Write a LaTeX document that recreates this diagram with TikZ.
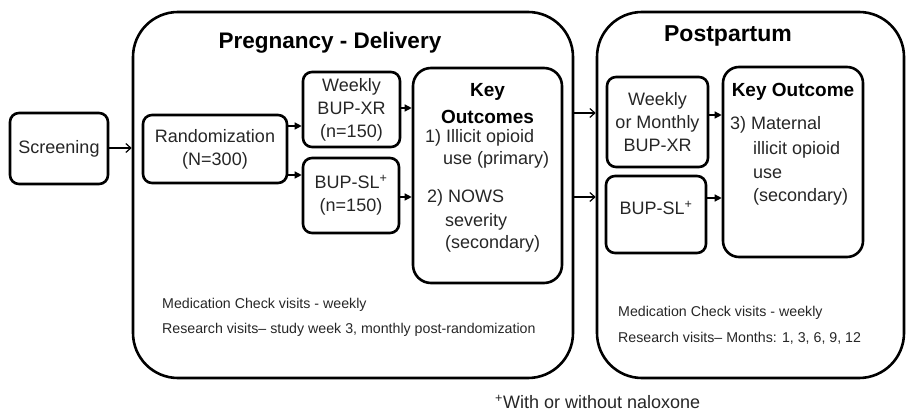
\documentclass[tikz,border=0pt]{standalone}
\usepackage{fontspec}
\setmainfont{Liberation Sans}
\usetikzlibrary{arrows.meta}
\begin{document}
\begin{tikzpicture}[x=1pt,y=-1pt,
  box/.style={draw, line width=2.6pt, rounded corners=9pt, inner sep=0pt, align=center,
    font=\fontsize{18}{23}\selectfont, text=black!85},
  bigbox/.style={draw, line width=2.6pt, rounded corners=45pt, inner sep=0pt},
  keybox/.style={draw, line width=2.6pt, rounded corners=18pt, inner sep=0pt},
  solidarrow/.style={line width=1.2pt, -{Triangle[length=7pt,width=7pt]}},
  openarrow/.style={line width=1.2pt, -{Straight Barb[length=5pt,width=9pt]}},
  txt/.style={inner sep=0pt, anchor=west, font=\fontsize{18}{23}\selectfont, text=black!85},
  head/.style={inner sep=0pt, font=\bfseries\fontsize{19}{23}\selectfont},
  title/.style={inner sep=0pt, font=\bfseries\fontsize{22.5}{26}\selectfont},
  note/.style={inner sep=0pt, anchor=west, font=\fontsize{14.2}{17}\selectfont, text=black!85}
]
\useasboundingbox (0,0) rectangle (907,411);

% big phase boxes
\node[bigbox, minimum width=440pt, minimum height=366pt] (preg) at (353,195) {};
\node[bigbox, minimum width=307pt, minimum height=366pt] (post) at (750.5,195) {};

\node[title] (pregt) at (330,43) {Pregnancy - Delivery};
\node[title, font=\bfseries\fontsize{23}{26}\selectfont] (postt) at (728,36) {Postpartum};

% screening and randomization
\node[box, minimum width=98pt, minimum height=71pt] (scr) at (59,148.5) {Screening};
\node[box, minimum width=144pt, minimum height=68pt] (rand) at (215,149) {Randomization\\(N=300)};

% pregnancy arms
\node[box, minimum width=97pt, minimum height=75pt] (wk) at (351.5,109.5) {Weekly\\BUP-XR\\(n=150)};
\node[box, minimum width=96pt, minimum height=75pt] (sl) at (351,195.5) {BUP-SL\textsuperscript{+}\\(n=150)};

% pregnancy key outcomes
\node[keybox, minimum width=149pt, minimum height=215pt] (key) at (487.5,175.5) {};
\node[head] (k1) at (487.5,92) {Key};
\node[head] (k2) at (487.5,117) {Outcomes};
\node[txt] (k3) at (425,138) {1) Illicit opioid};
\node[txt] (k4) at (443,160) {use (primary)};
\node[txt] (k5) at (427,198) {2) NOWS};
\node[txt] (k6) at (445,222) {severity};
\node[txt] (k7) at (445,244) {(secondary)};

% postpartum arms
\node[box, minimum width=101pt, minimum height=90pt] (pwk) at (657.5,122) {Weekly\\or Monthly\\BUP-XR};
\node[box, minimum width=100pt, minimum height=77pt] (psl) at (656,214.5) {};
\node[txt, anchor=center] (pslt) at (656,208) {BUP-SL\textsuperscript{+}};

% postpartum key outcome
\node[keybox, rounded corners=16pt, minimum width=140pt, minimum height=190pt] (pkey) at (793,162) {};
\node[head] (pk1) at (793,92) {Key Outcome};
\node[txt] (pk2) at (730,125) {3) Maternal};
\node[txt] (pk3) at (753,150) {illicit opioid};
\node[txt] (pk4) at (753,174) {use};
\node[txt] (pk5) at (753,197) {(secondary)};

% visit notes
\node[note] (n1) at (162,305) {Medication Check visits - weekly};
\node[note] (n2) at (162,330) {Research visits– study week 3, monthly post-randomization};
\node[note] (n3) at (618,313) {Medication Check visits - weekly};
\node[note] (n4) at (618,338) {Research visits– Months: 1, 3, 6, 9, 12};

% footnote
\node[txt] (foot) at (495,402) {\textsuperscript{+}With or without naloxone};

% connectors
\draw[openarrow] (scr.east |- 0,148) -- (preg.west |- 0,148);
\draw[solidarrow] (rand.east |- 0,126) -- (wk.west |- 0,126);
\draw[solidarrow] (rand.east |- 0,175) -- (sl.west |- 0,175);
\draw[solidarrow] (wk.east |- 0,108) -- (key.west |- 0,108);
\draw[solidarrow] (sl.east |- 0,197) -- (key.west |- 0,197);
\draw[openarrow] (preg.east |- 0,113) -- (post.west |- 0,113);
\draw[openarrow] (preg.east |- 0,197) -- (post.west |- 0,197);
\draw[solidarrow] (pwk.east |- 0,115) -- (pkey.west |- 0,115);
\draw[solidarrow] (psl.east |- 0,198) -- (pkey.west |- 0,198);
\end{tikzpicture}
\end{document}
